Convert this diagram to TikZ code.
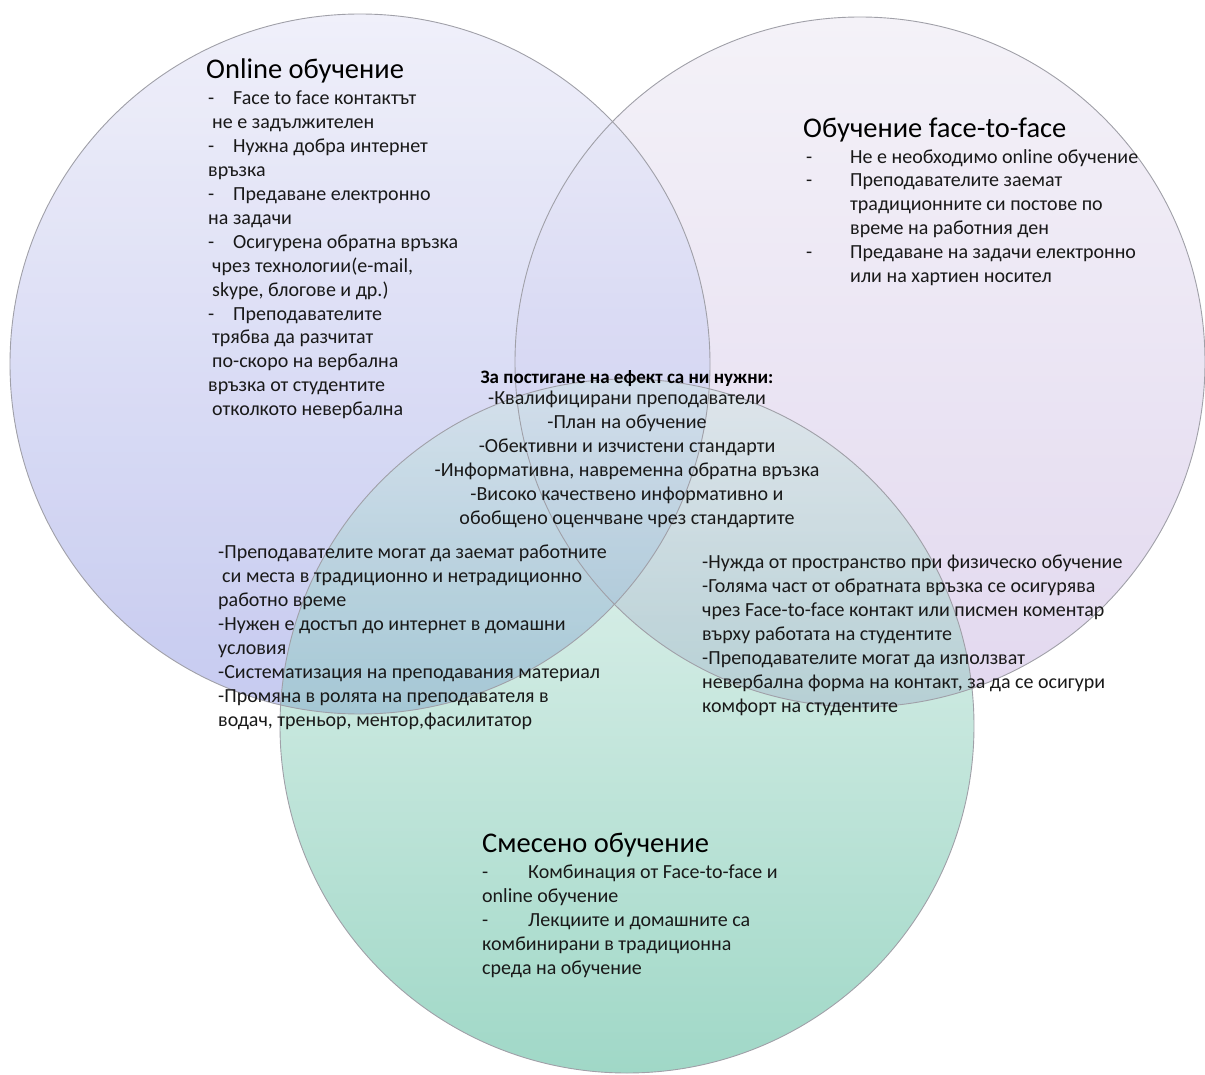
\documentclass[tikz,border=0pt]{standalone}
\usepackage{fontspec}
\setmainfont{Carlito}
\definecolor{onlinetop}{RGB}{237,237,249}
\definecolor{onlinebot}{RGB}{188,193,237}
\definecolor{f2ftop}{RGB}{244,242,248}
\definecolor{f2fbot}{RGB}{226,216,239}
\definecolor{mixedtop}{RGB}{207,232,225}
\definecolor{mixedmid}{RGB}{172,217,205}
\definecolor{mixedbot}{RGB}{17,157,115}
\definecolor{ringgray}{RGB}{160,160,168}
\definecolor{textblack}{RGB}{25,25,25}
\newcommand{\dashtab}[1]{\makebox[#1][l]{-}}
\begin{document}
\begin{tikzpicture}[x=1pt,y=-1pt,
    ring/.style={draw=ringgray,line width=0.9pt},
    headtext/.style={anchor=base west,inner sep=0pt,text=black,font=\fontsize{28.5}{32}\selectfont},
    itemtext/.style={anchor=north west,inner sep=0pt,align=left,text=textblack,font=\fontsize{20}{23.9}\selectfont}]
  \useasboundingbox (0,0) rectangle (1205,1075);
  \coordinate (online) at (360,364);
  \coordinate (f2f) at (860,362);
  \coordinate (mixed) at (627,726);
  % the three circles
  \shade[top color=f2ftop,bottom color=f2fbot] (f2f) circle[radius=345];
  \shade[top color=onlinetop,bottom color=onlinebot,fill opacity=0.85] (online) circle[radius=350];
  \shade[top color=mixedtop,middle color=mixedmid,bottom color=mixedbot,fill opacity=0.4] (mixed) circle[radius=347];
  \draw[ring] (online) circle[radius=350];
  \draw[ring] (f2f) circle[radius=345];
  \draw[ring] (mixed) circle[radius=347];
  % online
  \node[headtext] (onlinehead) at (206,79) {Online обучение};
  \node[itemtext] (onlinelist) at (208,91) {\dashtab{25pt}Face to face контактът\\
    \hspace{4pt}не е задължителен\\
    \dashtab{25pt}Нужна добра интернет\\
    връзка\\
    \dashtab{25pt}Предаване електронно\\
    на задачи\\
    \dashtab{25pt}Осигурена обратна връзка\\
    \hspace{4pt}чрез технологии(e-mail,\\
    \hspace{4pt}skype, блогове и др.)\\
    \dashtab{25pt}Преподавателите\\
    \hspace{4pt}трябва да разчитат\\
    \hspace{4pt}по-скоро на вербална\\
    връзка от студентите\\
    \hspace{4pt}отколкото невербална};
  % face-to-face
  \node[headtext] (f2fhead) at (803,138) {Обучение face-to-face};
  \node[itemtext] (f2flist) at (806,149) {\dashtab{44pt}Не е необходимо online обучение\\
    \dashtab{44pt}Преподавателите заемат\\
    \hspace{44pt}традиционните си постове по\\
    \hspace{44pt}време на работния ден\\
    \dashtab{44pt}Предаване на задачи електронно\\
    \hspace{44pt}или на хартиен носител};
  % all three
  \node[anchor=base,inner sep=0pt,text=black,font=\bfseries\fontsize{19}{22}\selectfont] (needshead) at (627,383) {За постигане на ефект са ни нужни:};
  \node[itemtext,anchor=north,align=center] (needslist) at (627,391) {-Квалифицирани преподаватели\\
    -План на обучение\\
    -Обективни и изчистени стандарти\\
    -Информативна, навременна обратна връзка\\
    -Високо качествено информативно и\\
    обобщено оценчване чрез стандартите};
  % online and mixed
  \node[itemtext] (onlinemixed) at (218,545) {-Преподавателите могат да заемат работните\\
    \hspace{4pt}си места в традиционно и нетрадиционно\\
    работно време\\
    -Нужен е достъп до интернет в домашни\\
    условия\\
    -Систематизация на преподавания материал\\
    -Промяна в ролята на преподавателя в\\
    водач, треньор, ментор,фасилитатор};
  % face-to-face and mixed
  \node[itemtext] (f2fmixed) at (702,555) {-Нужда от пространство при физическо обучение\\
    -Голяма част от обратната връзка се осигурява\\
    чрез Face-to-face контакт или писмен коментар\\
    върху работата на студентите\\
    -Преподавателите могат да използват\\
    невербална форма на контакт, за да се осигури\\
    комфорт на студентите};
  % mixed
  \node[headtext] (mixedhead) at (482,852) {Смесено обучение};
  \node[itemtext] (mixedlist) at (482,865) {\dashtab{46pt}Комбинация от Face-to-face и\\
    online обучение\\
    \dashtab{46pt}Лекциите и домашните са\\
    комбинирани в традиционна\\
    среда на обучение};
\end{tikzpicture}
\end{document}
